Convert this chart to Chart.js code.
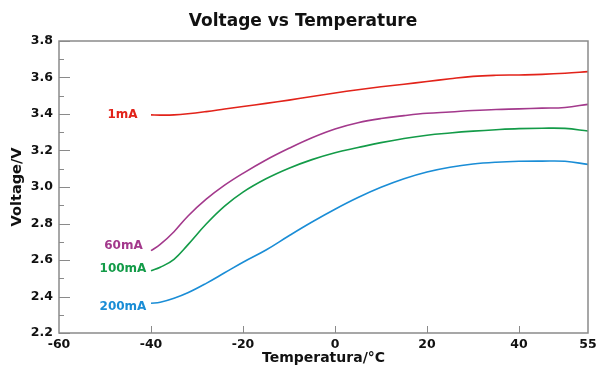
<!DOCTYPE html>
<html>
<head>
<meta charset="utf-8">
<script src="https://cdn.jsdelivr.net/npm/chart.js@4"></script>
<style>
  html, body { margin: 0; padding: 0; background: #fff; }
  #wrap { width: 600px; height: 373px; }
</style>
</head>
<body>
<div id="wrap"><canvas id="c" width="600" height="373"></canvas></div>
<script>
const temperatures = [-40, -38, -35, -32, -28, -24, -20, -15, -10, -5, 0, 5, 10, 15, 20, 25, 30, 35, 40, 45, 50, 55];
const v1mA   = [3.395, 3.394, 3.395, 3.401, 3.413, 3.427, 3.441, 3.458, 3.476, 3.496, 3.515, 3.533, 3.549, 3.563, 3.578, 3.593, 3.606, 3.612, 3.614, 3.617, 3.623, 3.632];
const v60mA  = [2.651, 2.685, 2.755, 2.840, 2.933, 3.010, 3.075, 3.148, 3.212, 3.270, 3.318, 3.352, 3.375, 3.391, 3.404, 3.411, 3.419, 3.425, 3.428, 3.432, 3.436, 3.453];
const v100mA = [2.541, 2.560, 2.604, 2.683, 2.797, 2.895, 2.972, 3.045, 3.103, 3.150, 3.188, 3.216, 3.243, 3.266, 3.284, 3.296, 3.306, 3.314, 3.320, 3.322, 3.321, 3.307];
const v200mA = [2.363, 2.368, 2.390, 2.420, 2.472, 2.530, 2.588, 2.655, 2.733, 2.808, 2.878, 2.942, 2.998, 3.045, 3.082, 3.108, 3.126, 3.136, 3.141, 3.142, 3.141, 3.124];
const seriesNames = ['1mA', '60mA', '100mA', '200mA'];
const xTickValues = [-60, -40, -20, 0, 20, 40, 55];
const yMajorTicks = [2.2, 2.4, 2.6, 2.8, 3.0, 3.2, 3.4, 3.6, 3.8];
const yMinorTicks = [2.3, 2.5, 2.7, 2.9, 3.1, 3.3, 3.5, 3.7];

const colors = ['#e2231a', '#a3398c', '#139b48', '#1a8dd6'];
const labelPos = [ // label anchor: [right-edge temperature, voltage]
  [-42.9, 3.396], [-41.8, 2.678], [-41.0, 2.549], [-41.0, 2.344]
];
const allSeries = [v1mA, v60mA, v100mA, v200mA];

const toPts = arr => temperatures.map((t, i) => ({ x: t, y: arr[i] }));
const axisColor = '#8a8a8a';
const FONT = '"DejaVu Sans", Verdana, sans-serif';

const framePlugin = {
  id: 'frame',
  afterDraw(chart) {
    const { ctx, chartArea: a, scales } = chart;
    ctx.save();
    ctx.strokeStyle = axisColor;
    ctx.lineWidth = 1.5;
    ctx.strokeRect(a.left, a.top, a.right - a.left, a.bottom - a.top);
    ctx.lineWidth = 1;
    yMajorTicks.forEach(v => {
      const y = Math.round(scales.y.getPixelForValue(v)) + 0.5;
      ctx.beginPath(); ctx.moveTo(a.left, y); ctx.lineTo(a.left + 11, y); ctx.stroke();
    });
    yMinorTicks.forEach(v => {
      const y = Math.round(scales.y.getPixelForValue(v)) + 0.5;
      ctx.beginPath(); ctx.moveTo(a.left, y); ctx.lineTo(a.left + 5, y); ctx.stroke();
    });
    [-40, -20, 0, 20, 40].forEach(v => {
      const x = Math.round(scales.x.getPixelForValue(v)) + 0.5;
      ctx.beginPath(); ctx.moveTo(x, a.bottom); ctx.lineTo(x, a.bottom - 7); ctx.stroke();
    });
    ctx.font = 'bold 12px ' + FONT;
    ctx.textAlign = 'right';
    ctx.textBaseline = 'middle';
    seriesNames.forEach((n, i) => {
      ctx.fillStyle = colors[i];
      ctx.fillText(n, scales.x.getPixelForValue(labelPos[i][0]), scales.y.getPixelForValue(labelPos[i][1]));
    });
    ctx.restore();
  }
};

new Chart(document.getElementById('c'), {
  type: 'line',
  data: {
    datasets: allSeries.map((arr, i) => ({
      label: seriesNames[i],
      data: toPts(arr),
      borderColor: colors[i],
      borderWidth: 1.6,
      pointRadius: 0,
      tension: 0.4,
      fill: false
    }))
  },
  options: {
    responsive: false,
    animation: false,
    layout: { padding: { left: 6, right: 0, top: 0, bottom: 0 } },
    plugins: {
      legend: { display: false },
      tooltip: { enabled: false },
      title: {
        display: true,
        text: 'Voltage vs Temperature',
        color: '#111',
        font: { family: FONT, size: 17, weight: 'bold' },
        padding: { top: 11, bottom: 9.6 }
      }
    },
    scales: {
      x: {
        type: 'linear',
        min: -60, max: 55,
        afterBuildTicks: s => { s.ticks = xTickValues.map(v => ({ value: v })); },
        afterFit: s => { s.height = 40; s.paddingRight = 12; },
        grid: { display: false, drawTicks: false },
        border: { display: false },
        ticks: {
          color: '#111',
          padding: 4,
          maxRotation: 0,
          autoSkip: false,
          font: { family: FONT, size: 12.5, weight: 'bold' },
          callback: v => String(v)
        },
        title: {
          display: true,
          text: 'Temperatura/°C',
          color: '#111',
          font: { family: FONT, size: 14, weight: 'bold' },
          padding: { top: 0, bottom: 6 }
        }
      },
      y: {
        type: 'linear',
        min: 2.2, max: 3.8,
        afterBuildTicks: s => { s.ticks = yMajorTicks.map(v => ({ value: v })); },
        afterFit: s => { s.width = 53; },
        grid: { display: false, drawTicks: false },
        border: { display: false },
        ticks: {
          color: '#111',
          padding: 6,
          font: { family: FONT, size: 12.5, weight: 'bold' },
          callback: v => Number(v).toFixed(1)
        },
        title: {
          display: true,
          text: 'Voltage/V',
          color: '#111',
          font: { family: FONT, size: 14.5, weight: 'bold' },
          padding: { top: 3, bottom: 0 }
        }
      }
    }
  },
  plugins: [framePlugin]
});
</script>
</body>
</html>
